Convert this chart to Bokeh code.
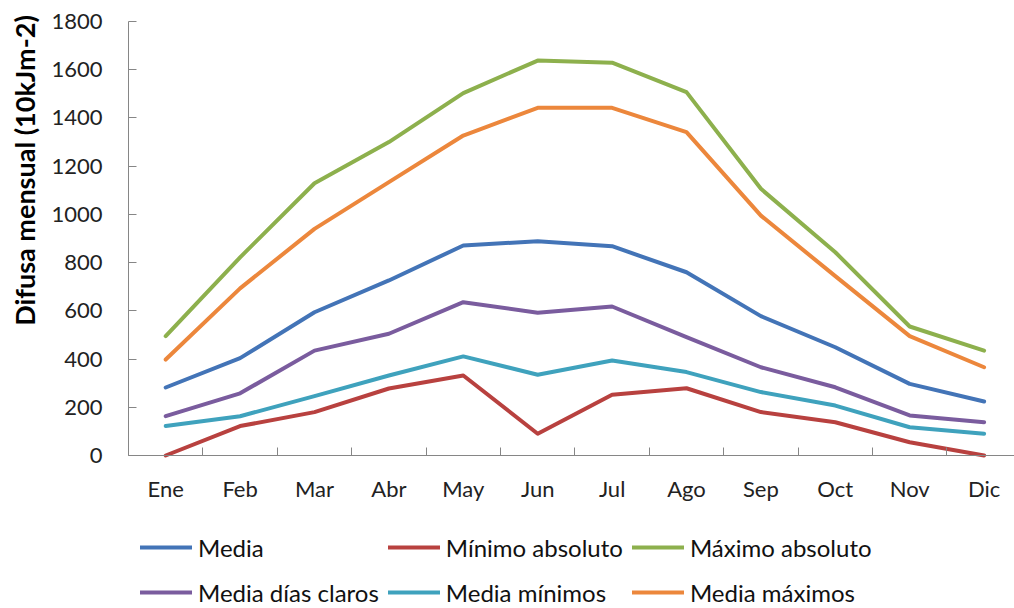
import math
from bokeh.plotting import figure
from bokeh.models import Range1d, FixedTicker, Legend, LegendItem, Label
from bokeh.embed import file_html
from bokeh.resources import INLINE

months = ["Ene", "Feb", "Mar", "Abr", "May", "Jun", "Jul", "Ago", "Sep", "Oct", "Nov", "Dic"]
media = [282, 404, 594, 726, 871, 889, 868, 760, 578, 449, 297, 224]
minimo_abs = [0, 122, 180, 278, 332, 90, 252, 279, 180, 138, 55, 0]
maximo_abs = [495, 822, 1129, 1300, 1503, 1638, 1629, 1507, 1106, 843, 535, 435]
media_claros = [163, 258, 435, 505, 636, 592, 618, 491, 366, 283, 166, 138]
media_minimos = [122, 163, 246, 332, 411, 335, 394, 346, 263, 207, 117, 90]
media_maximos = [398, 693, 940, 1134, 1327, 1442, 1442, 1341, 995, 744, 495, 366]
y_ticks = [0, 200, 400, 600, 800, 1000, 1200, 1400, 1600, 1800]
y_title = "Difusa mensual (10kJm-2)"

series = [
    ("Media", media, "#4374B7"),
    ("Mínimo absoluto", minimo_abs, "#B8413F"),
    ("Máximo absoluto", maximo_abs, "#8DB04D"),
    ("Media días claros", media_claros, "#7A5C9E"),
    ("Media mínimos", media_minimos, "#3FA2BD"),
    ("Media máximos", media_maximos, "#EC873C"),
]
legend_cols = 3

xs = list(range(len(months)))
FONT = "Lato"

W, H = 1014, 608
# plot-area geometry in pixels (axes are drawn inside a full-canvas frame)
px_left, px_top, px_zero = 128, 21, 455
y_max = y_ticks[-1]
u_y = y_max / (px_zero - px_top)          # data units per pixel (y)
u_x = 1 / 74.4                             # category units per pixel (x)
x_lo = -0.5 - px_left * u_x
x_hi = -0.5 + (W - px_left) * u_x
y_lo = -(H - px_zero) * u_y
y_hi = y_max + px_top * u_y

p = figure(width=W, height=H, output_backend="svg", toolbar_location=None,
           x_range=Range1d(x_lo, x_hi), y_range=Range1d(y_lo, y_hi),
           min_border_left=0, min_border_right=0, min_border_top=0,
           min_border_bottom=0)
p.outline_line_color = None
p.xgrid.visible = False
p.ygrid.visible = False

items = []
for name, vals, col in series:
    r = p.line(xs, vals, line_color=col, line_width=4, line_join="round", line_cap="round")
    items.append(LegendItem(label=name, renderers=[r]))

# Bokeh fills legend columns first: reorder so rows read like the reference
nrows = (len(items) + legend_cols - 1) // legend_cols
ordered = [items[r * legend_cols + c] for c in range(legend_cols) for r in range(nrows)]

# x axis drawn at value 0
xa = p.xaxis[0]
xa.fixed_location = 0
xa.bounds = (-0.5, x_hi)
xa.ticker = FixedTicker(ticks=xs, minor_ticks=[i - 0.5 for i in range(len(months) + 1)])
xa.major_label_overrides = {i: m for i, m in enumerate(months)}
xa.major_tick_in = 0
xa.major_tick_out = 0
xa.minor_tick_in = 8
xa.minor_tick_out = 0
xa.minor_tick_line_color = "#868686"
xa.axis_line_color = "#868686"
xa.major_label_standoff = 19
xa.major_label_text_font = FONT
xa.major_label_text_font_size = "22px"
xa.major_label_text_color = "#222222"

# y axis drawn at the left edge of the category span
ya = p.yaxis[0]
ya.fixed_location = -0.5
ya.ticker = FixedTicker(ticks=y_ticks)
ya.bounds = (0, y_max)
ya.major_tick_in = 8
ya.major_tick_out = 0
ya.minor_tick_in = 0
ya.minor_tick_out = 0
ya.major_tick_line_color = "#868686"
ya.axis_line_color = "#868686"
ya.major_label_standoff = 26
ya.major_label_text_font = FONT
ya.major_label_text_font_size = "22px"
ya.major_label_text_color = "#222222"

ylab = Label(x=24, y=H - 170, x_units="screen", y_units="screen", text=y_title,
             angle=math.pi / 2, text_align="center", text_baseline="middle",
             text_font=FONT, text_font_style="bold", text_font_size="27px",
             text_color="#000000")
p.add_layout(ylab)

legend = Legend(items=ordered, ncols=legend_cols, location=(140, -2),
                glyph_width=52, glyph_height=36, label_height=36,
                label_standoff=6, spacing=9, padding=0, margin=0,
                border_line_color=None, background_fill_alpha=0,
                label_text_font=FONT, label_text_font_size="24px",
                label_text_color="#111111")
p.add_layout(legend, "center")

open("out.html", "w").write(file_html(p, INLINE))
